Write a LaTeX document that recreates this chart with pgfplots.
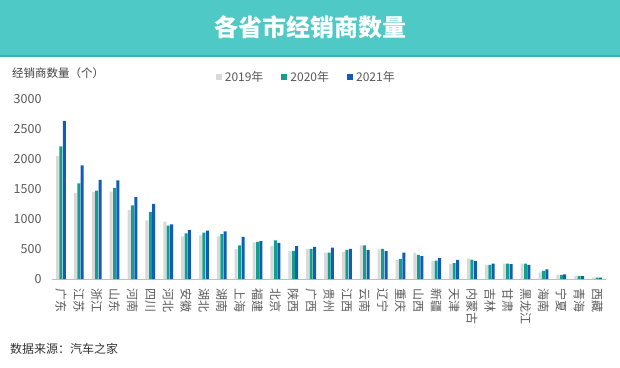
\documentclass[border=0pt]{standalone}
\usepackage{fontspec}
\setmainfont{Noto Sans CJK SC}
\usepackage{pgfplots}
\usepackage{pgfplotstable}
\pgfplotsset{compat=1.18}
\definecolor{banner}{HTML}{4FC9C6}
\definecolor{bannerline}{HTML}{3AB2AE}
\definecolor{cA}{HTML}{D9D9D9}
\definecolor{cB}{HTML}{12A08C}
\definecolor{cC}{HTML}{0F5DB8}
\definecolor{ticktext}{HTML}{595959}
\pgfplotstableread{
idx y2019 y2020 y2021
0 2050 2212 2637
1 1436 1592 1894
2 1447 1475 1654
3 1458 1520 1643
4 1151 1229 1363
5 978 1117 1251
6 955 888 911
7 710 760 816
8 726 771 805
9 710 749 793
10 497 559 704
11 609 620 631
12 548 643 603
13 464 469 548
14 503 503 536
15 441 441 525
16 453 486 503
17 559 559 486
18 492 503 464
19 318 335 441
20 441 402 380
21 296 307 346
22 246 263 318
23 341 324 296
24 235 235 257
25 257 257 246
26 257 257 235
27 112 134 162
28 73 67 78
29 50 50 50
30 22 22 25
}\datatable
\begin{document}
\begin{tikzpicture}
\path[use as bounding box] (0,0) rectangle (620pt,367pt);
\fill[banner] (0,311pt) rectangle (620pt,367pt);
\fill[bannerline] (0,310pt) rectangle (620pt,312pt);
\node[text=white, font=\fontsize{24}{28}\selectfont\bfseries] at (310pt,340pt) {各省市经销商数量};
\node[anchor=west, text=black!75, font=\fontsize{11.5}{13}\selectfont, inner sep=0pt] at (12pt,294pt) {经销商数量（个）};
\node[anchor=west, text=black!80, font=\fontsize{12}{14}\selectfont, inner sep=0pt] at (10pt,18pt) {数据来源：汽车之家};
\begin{axis}[
  at={(52pt,88pt)}, anchor=south west,
  scale only axis, width=554pt, height=180pt,
  xmin=-0.5, xmax=30.5, ymin=0, ymax=3000,
  ybar=0.4pt, bar width=3pt,
  axis lines*=left,
  y axis line style={draw=none},
  x axis line style={draw=black!25, line width=0.8pt},
  major tick length=0pt,
  ytick={0,500,1000,1500,2000,2500,3000},
  yticklabel style={font=\fontsize{12.5}{14}\selectfont, text=ticktext, xshift=-7pt},
  /pgf/number format/assume math mode=true,
  /pgf/number format/set thousands separator={},
  xtick=data,
  xticklabels={广东,江苏,浙江,山东,河南,四川,河北,安徽,湖北,湖南,上海,福建,北京,陕西,广西,贵州,江西,云南,辽宁,重庆,山西,新疆,天津,内蒙古,吉林,甘肃,黑龙江,海南,宁夏,青海,西藏},
  xticklabel style={rotate=-90, anchor=west, font=\fontsize{12}{14}\selectfont, text=ticktext},
  xticklabel shift=6pt,
  legend columns=3,
  legend style={at={(0.29,1.122)}, anchor=west, draw=none, fill=none,
    font=\fontsize{12}{14}\selectfont, text=ticktext,
    /tikz/every odd column/.append style={column sep=1pt},
    /tikz/every even column/.append style={column sep=16pt}},
  legend image code/.code={\fill[#1] (0pt,-3pt) rectangle (6pt,3pt);},
]
\addplot[fill=cA, draw=none] table[x=idx, y=y2019] {\datatable};
\addplot[fill=cB, draw=none] table[x=idx, y=y2020] {\datatable};
\addplot[fill=cC, draw=none] table[x=idx, y=y2021] {\datatable};
\legend{2019年,2020年,2021年}
\end{axis}
\end{tikzpicture}
\end{document}
